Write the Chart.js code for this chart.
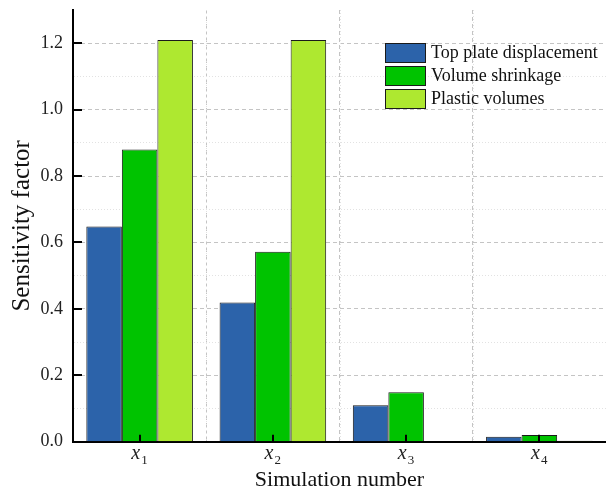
<!DOCTYPE html>
<html>
<head>
<meta charset="utf-8">
<script src="https://cdn.jsdelivr.net/npm/chart.js@4"></script>
<style>
  html, body { margin: 0; padding: 0; background: #fff; }
  #wrap { width: 606px; height: 491px; }
</style>
</head>
<body>
<div id="wrap"><canvas id="chart" width="606" height="491"></canvas></div>
<script>
// values
const categories = ['x1', 'x2', 'x3', 'x4'];
const seriesNames = ['Top plate displacement', 'Volume shrinkage', 'Plastic volumes'];
const topPlate = [0.648, 0.419, 0.110, 0.015];
const volumeShrinkage = [0.880, 0.572, 0.149, 0.020];
const plasticVolumes = [1.210, 1.210, 0, 0.003];
const yTicks = [0.0, 0.2, 0.4, 0.6, 0.8, 1.0, 1.2];

const colors = ['#2c63aa', '#00c300', '#aee830'];
const serif = "'Liberation Serif', 'Times New Roman', serif";

// categories at 1..4 on a linear axis so the minor lines can sit at the halves
const toPoints = vals => vals.map((v, i) => ({x: i + 1, y: v}));

function isMajorY(v) {
    return yTicks.some(t => Math.abs(t - v) < 1e-6);
}

const gridY = {
    color: ctx => {
        if (!ctx.tick) return 'transparent';
        const v = ctx.tick.value;
        if (v < 0.05 || v > 1.25) return 'transparent';
        return isMajorY(v) ? '#c4c4c4' : '#e2e2e2';
    },
    dash: ctx => {
        if (!ctx.tick) return [];
        return isMajorY(ctx.tick.value) ? [4, 3] : [1, 2];
    }
};

// faint dotted lines halfway between categories
const minorX = {
    id: 'minorX',
    beforeDatasetsDraw(chart) {
        const {ctx, scales: {x}, chartArea} = chart;
        ctx.save();
        ctx.strokeStyle = '#e2e2e2';
        ctx.lineWidth = 1;
        ctx.setLineDash([1, 2]);
        ctx.beginPath();
        categories.slice(1).forEach((c, i) => {
            const px = Math.round(x.getPixelForValue(i + 1.5)) + 0.5;
            ctx.moveTo(px, chartArea.top);
            ctx.lineTo(px, chartArea.bottom);
        });
        ctx.stroke();
        ctx.restore();
    }
};

// inward tick marks, drawn over the bars
const tickMarks = {
    id: 'tickMarks',
    afterDatasetsDraw(chart) {
        const {ctx, scales: {x, y}, chartArea} = chart;
        ctx.save();
        ctx.strokeStyle = '#000';
        ctx.lineWidth = 2;
        ctx.beginPath();
        yTicks.forEach(t => {
            const py = Math.round(y.getPixelForValue(t));
            ctx.moveTo(chartArea.left, py);
            ctx.lineTo(chartArea.left + 9, py);
        });
        categories.forEach((c, i) => {
            const px = Math.round(x.getPixelForValue(i + 1));
            ctx.moveTo(px, chartArea.bottom);
            ctx.lineTo(px, chartArea.bottom - 7);
        });
        ctx.stroke();
        ctx.restore();
    }
};

// x1..x4 with italic x and subscript digit
const catLabels = {
    id: 'catLabels',
    afterDraw(chart) {
        const {ctx, scales: {x}} = chart;
        ctx.save();
        ctx.fillStyle = '#222';
        ctx.textBaseline = 'alphabetic';
        categories.forEach((c, i) => {
            const px = x.getPixelForValue(i + 1);
            ctx.font = 'italic 20px ' + serif;
            ctx.textAlign = 'right';
            ctx.fillText(c.charAt(0), px + 0.5, 459);
            ctx.font = '13px ' + serif;
            ctx.textAlign = 'left';
            ctx.fillText(c.slice(1), px + 1.5, 464);
        });
        ctx.restore();
    }
};

// legend inside the plot, no frame
const innerLegend = {
    id: 'innerLegend',
    afterDraw(chart) {
        const {ctx} = chart;
        ctx.save();
        chart.data.datasets.forEach((ds, i) => {
            const top = 43 + i * 23;
            ctx.fillStyle = ds.backgroundColor;
            ctx.fillRect(385, top, 41, 20);
            ctx.strokeStyle = '#1a1a1a';
            ctx.lineWidth = 1;
            ctx.strokeRect(385.5, top + 0.5, 40, 19);
            ctx.fillStyle = '#111';
            ctx.font = '18px ' + serif;
            ctx.textAlign = 'left';
            ctx.textBaseline = 'middle';
            ctx.fillText(ds.label, 431, top + 10);
        });
        ctx.restore();
    }
};

const data = {
    datasets: [
        {label: seriesNames[0], data: toPoints(topPlate), backgroundColor: colors[0]},
        {label: seriesNames[1], data: toPoints(volumeShrinkage), backgroundColor: colors[1]},
        {label: seriesNames[2], data: toPoints(plasticVolumes), backgroundColor: colors[2]}
    ].map(ds => Object.assign(ds, {
        borderColor: '#1a1a1a',
        borderWidth: 1,
        borderSkipped: 'bottom',
        categoryPercentage: 0.8,
        barPercentage: 1.0
    }))
};

const config = {
    type: 'bar',
    data: data,
    options: {
        responsive: false,
        animation: false,
        layout: {padding: {top: 10, left: 0, right: 0, bottom: 0}},
        plugins: {
            legend: {display: false},
            tooltip: {enabled: false}
        },
        scales: {
            x: {
                type: 'linear',
                min: 0.5,
                max: 4.5,
                offset: false,
                ticks: {display: false},
                afterBuildTicks: s => { s.ticks = categories.map((c, i) => ({value: i + 1})); },
                grid: {color: '#c4c4c4', drawTicks: false, lineWidth: 1},
                border: {color: '#000', width: 2, dash: [4, 3]},
                title: {
                    display: true,
                    text: 'Simulation number',
                    color: '#111',
                    font: {family: serif, size: 22, lineHeight: 1},
                    padding: {top: 0, bottom: 0}
                },
                afterFit: s => {
                    s.height = 49.3;
                    s.paddingLeft = 0;
                    s.paddingRight = 0;
                }
            },
            y: {
                min: 0,
                max: 1.3,
                ticks: {
                    stepSize: 0.1,
                    autoSkip: false,
                    padding: 10,
                    color: '#222',
                    font: {family: serif, size: 18, lineHeight: 1},
                    callback: v => isMajorY(v) ? v.toFixed(1) : ''
                },
                grid: {color: gridY.color, drawTicks: false, lineWidth: 1},
                border: {color: '#000', width: 2, dash: gridY.dash},
                title: {
                    display: true,
                    text: 'Sensitivity factor',
                    color: '#111',
                    font: {family: serif, size: 25, lineHeight: 1},
                    padding: {top: 10, bottom: 0}
                },
                afterFit: s => {
                    s.width = 73;
                    s.paddingTop = 0;
                    s.paddingBottom = 0;
                }
            }
        }
    },
    plugins: [minorX, tickMarks, catLabels, innerLegend]
};

new Chart(document.getElementById('chart'), config);
</script>
</body>
</html>
